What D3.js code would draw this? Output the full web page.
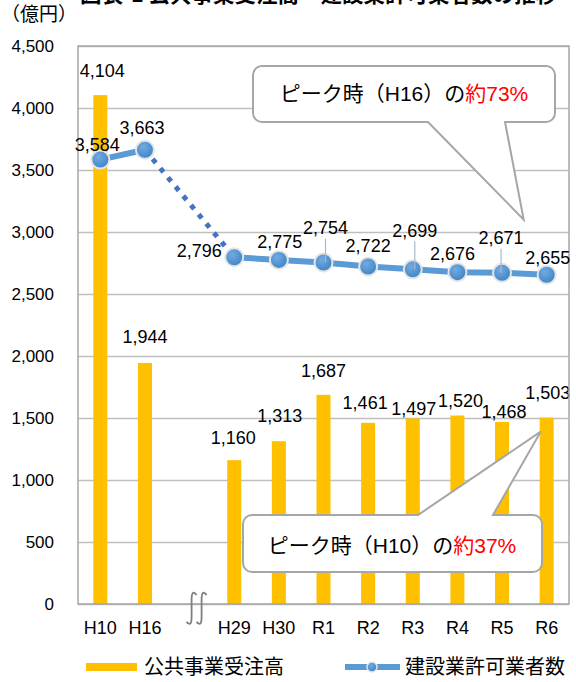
<!DOCTYPE html>
<html>
<head>
<meta charset="utf-8">
<script src="https://cdn.jsdelivr.net/npm/d3@7"></script>
<style>
  body { margin: 0; background: #fff; }
  text { font-family: "Liberation Sans", "Noto Sans CJK JP", sans-serif; }
</style>
</head>
<body>
<script>
// categories (empty slot = axis break between H16 and H29)
var categories = ["H10", "H16", "", "H29", "H30", "R1", "R2", "R3", "R4", "R5", "R6"];
// 公共事業受注高 (億円)
var orders = [4104, 1944, null, 1160, 1313, 1687, 1461, 1497, 1520, 1468, 1503];
// 建設業許可業者数
var permits = [3584, 3663, null, 2796, 2775, 2754, 2722, 2699, 2676, 2671, 2655];
var yTicks = [0, 500, 1000, 1500, 2000, 2500, 3000, 3500, 4000, 4500];

// label nudges (hand placed in the original)
var barLabelOff = [25, 26, 0, 23, 26, 24, 20, 10, 15, 10, 25];
var barLabelDx = [2, 0, 0, -1, 1, 0, -3, 1, 3, 2, 1];
var lineLabelDx = [-3, -3, 0, -35, 1, 2, 0, 2, -5, -1, 1];
var lineLabelDy = [-15, -22, 0, -7, -18, -35, -21, -39, -19, -35, -17];

var margin = {top: 46, right: 7, bottom: 78, left: 78},
    width = 576 - margin.left - margin.right,
    height = 682 - margin.top - margin.bottom;

var svg = d3.select("body").append("svg")
    .attr("width", 576)
    .attr("height", 682);

var defs = svg.append("defs");
var grad = defs.append("radialGradient").attr("id", "dot").attr("cx", "40%").attr("cy", "35%").attr("r", "65%");
grad.append("stop").attr("offset", "0%").attr("stop-color", "#72abe0");
grad.append("stop").attr("offset", "100%").attr("stop-color", "#3f85c8");

// title (cut off at the top of the picture, as in the original)
svg.append("text")
    .attr("x", 80).attr("y", 2)
    .style("font-size", "21.5px").style("font-weight", "bold")
    .style("font-family", "'Noto Sans CJK JP'")
    .text("図表-1 公共事業受注高・建設業許可業者数の推移");

svg.append("text")
    .attr("x", 1).attr("y", 21)
    .style("font-size", "19px")
    .style("font-family", "'Noto Sans CJK JP'")
    .text("（億円）");

var g = svg.append("g")
    .attr("transform", "translate(" + margin.left + "," + margin.top + ")");

var x = d3.scaleBand()
    .domain(d3.range(categories.length))
    .range([0, width])
    .paddingInner(0.686)
    .paddingOuter(0.343);

var y = d3.scaleLinear().domain([0, 4500]).range([height, 0]);

function cx(i) { return x(i) + x.bandwidth() / 2; }

// grid
g.append("g")
    .call(d3.axisLeft(y).tickValues(yTicks).tickSize(-width).tickFormat(""))
    .call(function(s) { s.select(".domain").remove(); })
    .selectAll("line").attr("stroke", "#bfbfbf").attr("stroke-width", 1.3);

// y axis labels
var yAxis = g.append("g")
    .call(d3.axisLeft(y).tickValues(yTicks).tickSize(0).tickPadding(24).tickFormat(d3.format(",")));
yAxis.select(".domain").remove();
yAxis.selectAll("text").style("font-size", "17px").attr("fill", "#000")
    .style("font-family", "'Liberation Sans'");

// x axis labels
var xAxis = g.append("g")
    .attr("transform", "translate(0," + height + ")")
    .call(d3.axisBottom(x).tickSize(0).tickPadding(17).tickFormat(function(i) { return categories[i]; }));
xAxis.select(".domain").remove();
xAxis.selectAll("text").style("font-size", "18px").attr("fill", "#000")
    .style("font-family", "'Liberation Sans'");

// bars
var barIdx = d3.range(orders.length).filter(function(i) { return orders[i] != null; });
g.selectAll(".bar")
    .data(barIdx)
  .enter().append("rect")
    .attr("class", "bar")
    .attr("x", function(i) { return x(i); })
    .attr("width", x.bandwidth())
    .attr("y", function(i) { return y(orders[i]); })
    .attr("height", function(i) { return height - y(orders[i]); })
    .attr("fill", "#ffc000");

g.selectAll(".blabel")
    .data(barIdx)
  .enter().append("text")
    .attr("class", "blabel")
    .attr("x", function(i) { return cx(i) + barLabelDx[i]; })
    .attr("y", function(i) { return y(orders[i]) - barLabelOff[i]; })
    .attr("dy", "0.36em")
    .attr("text-anchor", "middle")
    .style("font-size", "18px")
    .text(function(i) { return d3.format(",")(orders[i]); });

// plot border
g.append("rect")
    .attr("width", width).attr("height", height)
    .attr("fill", "none").attr("stroke", "#a6a6a6").attr("stroke-width", 1.5);

// line
var line = d3.line()
    .x(function(i) { return cx(i); })
    .y(function(i) { return y(permits[i]); });

g.append("path")
    .datum([0, 1])
    .attr("d", line)
    .attr("fill", "none").attr("stroke", "#5b9bd5").attr("stroke-width", 6);
g.append("path")
    .datum([3, 4, 5, 6, 7, 8, 9, 10])
    .attr("d", line)
    .attr("fill", "none").attr("stroke", "#5b9bd5").attr("stroke-width", 6);
g.append("path")
    .datum([1, 3])
    .attr("d", line)
    .attr("fill", "none").attr("stroke", "#4472c4").attr("stroke-width", 5)
    .attr("stroke-dasharray", "5,7");

var ptIdx = d3.range(permits.length).filter(function(i) { return permits[i] != null; });
g.selectAll(".dot")
    .data(ptIdx)
  .enter().append("circle")
    .attr("class", "dot")
    .attr("cx", function(i) { return cx(i); })
    .attr("cy", function(i) { return y(permits[i]); })
    .attr("r", 9)
    .attr("fill", "url(#dot)")
    .attr("stroke", "#e4e4e4").attr("stroke-width", 2);

// leader lines for labels pushed far away
g.selectAll(".leader")
    .data(ptIdx.filter(function(i) { return lineLabelDy[i] < -30; }))
  .enter().append("line")
    .attr("x1", function(i) { return cx(i) + lineLabelDx[i]; })
    .attr("x2", function(i) { return cx(i) + lineLabelDx[i]; })
    .attr("y1", function(i) { return y(permits[i]) + lineLabelDy[i] + 11; })
    .attr("y2", function(i) { return y(permits[i]); })
    .attr("stroke", "#a9b8cc").attr("stroke-width", 1.2);

g.selectAll(".llabel")
    .data(ptIdx)
  .enter().append("text")
    .attr("class", "llabel")
    .attr("x", function(i) { return cx(i) + lineLabelDx[i]; })
    .attr("y", function(i) { return y(permits[i]) + lineLabelDy[i]; })
    .attr("dy", "0.36em")
    .attr("text-anchor", "middle")
    .style("font-size", "18px")
    .text(function(i) { return d3.format(",")(permits[i]); });

// axis break mark
var bx = cx(2) + 7;
[-5, 5].forEach(function(o) {
  var c = bx + o;
  g.append("path")
    .attr("d", "M" + (c + 5) + "," + (height - 9) + " C" + (c + 1) + "," + (height - 14) + " " + c + "," + (height - 10) + " " + c + "," + (height - 4)
       + " L" + c + "," + (height + 13) + " C" + c + "," + (height + 19) + " " + (c - 1) + "," + (height + 22) + " " + (c - 5) + "," + (height + 18))
    .attr("fill", "none").attr("stroke", "#7f7f7f").attr("stroke-width", 1.8);
});

// callouts
function callout(x0, y0, x1, y1, r, side, b0, b1, tip) {
  var p = d3.path();
  p.moveTo(x0 + r, y0);
  if (side == "top") { p.lineTo(b0, y0); p.lineTo(tip[0], tip[1]); p.lineTo(b1, y0); }
  p.lineTo(x1 - r, y0);
  p.arcTo(x1, y0, x1, y0 + r, r);
  p.lineTo(x1, y1 - r);
  p.arcTo(x1, y1, x1 - r, y1, r);
  if (side == "bottom") { p.lineTo(b1, y1); p.lineTo(tip[0], tip[1]); p.lineTo(b0, y1); }
  p.lineTo(x0 + r, y1);
  p.arcTo(x0, y1, x0, y1 - r, r);
  p.lineTo(x0, y0 + r);
  p.arcTo(x0, y0, x0 + r, y0, r);
  p.closePath();
  svg.append("path").attr("d", p.toString())
    .attr("fill", "#fff").attr("stroke", "#a6a6a6").attr("stroke-width", 2);
}

function calloutText(xm, yb, a, b) {
  var t = svg.append("text")
    .attr("x", xm).attr("y", yb)
    .attr("text-anchor", "middle")
    .style("font-size", "21px");
  t.append("tspan").attr("fill", "#000").text(a);
  t.append("tspan").attr("fill", "#ff0000").text(b);
}

callout(253, 66, 555, 122, 9, "bottom", 428, 505,
        [margin.left + cx(10) - 23, margin.top + y(3100)]);
calloutText(404, 101, "ピーク時（H16）の", "約73%");

callout(243, 515, 542, 572, 9, "top", 418, 493,
        [margin.left + cx(10) - 6, margin.top + y(1390)]);
calloutText(392, 553, "ピーク時（H10）の", "約37%");

// legend
svg.append("rect")
    .attr("x", 86).attr("y", 663).attr("width", 51).attr("height", 8)
    .attr("fill", "#ffc000");
svg.append("text")
    .attr("x", 144).attr("y", 674)
    .style("font-size", "20px")
    .style("font-family", "'Noto Sans CJK JP'")
    .text("公共事業受注高");

svg.append("line")
    .attr("x1", 345).attr("x2", 400).attr("y1", 667).attr("y2", 667)
    .attr("stroke", "#5b9bd5").attr("stroke-width", 6);
svg.append("circle")
    .attr("cx", 372).attr("cy", 667).attr("r", 5)
    .attr("fill", "url(#dot)").attr("stroke", "#e4e4e4").attr("stroke-width", 1.5);
svg.append("text")
    .attr("x", 405).attr("y", 674)
    .style("font-size", "20px")
    .style("font-family", "'Noto Sans CJK JP'")
    .text("建設業許可業者数");
</script>
</body>
</html>
